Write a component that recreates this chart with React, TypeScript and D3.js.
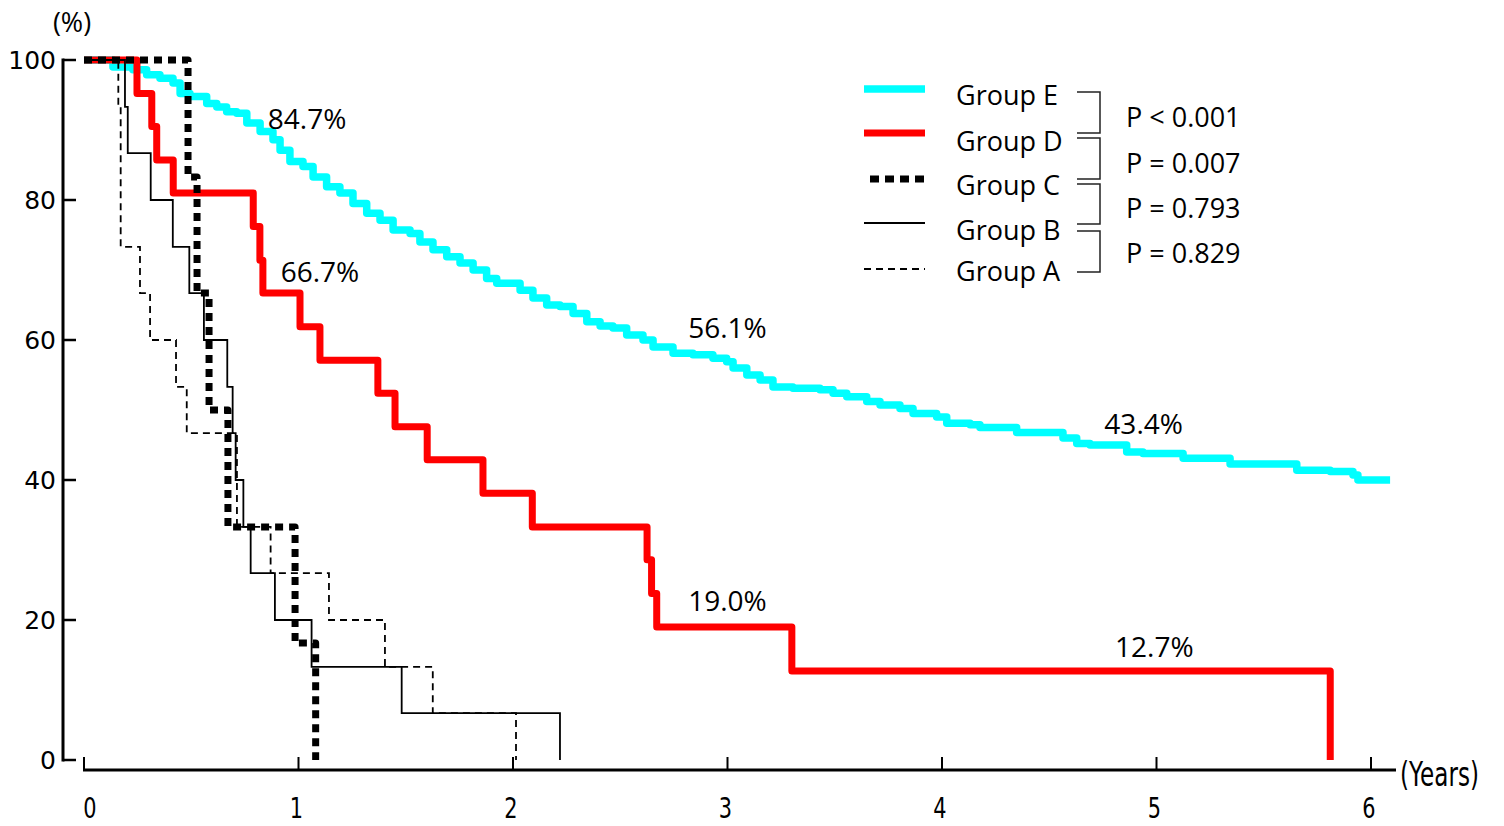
import React from 'react';
import * as d3 from 'd3';

const W = 1504;
const H = 826;

// Kaplan-Meier step points: [years, survival %]
const groupE: [number, number][] = [
  [0, 100], [0.135, 99.0], [0.228, 98.6], [0.292, 97.9], [0.354, 97.4], [0.415, 96.7],
  [0.448, 95.2], [0.494, 94.8], [0.572, 93.8], [0.619, 93.3], [0.665, 92.6], [0.712, 92.4],
  [0.759, 91.0], [0.821, 89.8], [0.881, 88.6], [0.914, 87.1], [0.96, 85.5], [1.021, 84.8],
  [1.068, 83.3], [1.131, 81.9], [1.193, 81.0], [1.254, 79.5], [1.318, 78.1], [1.38, 77.1],
  [1.441, 75.7], [1.52, 75.2], [1.566, 74.0], [1.627, 72.9], [1.691, 71.9], [1.753, 71.0],
  [1.814, 70.0], [1.877, 68.8], [1.924, 68.1], [2.033, 67.1], [2.093, 66.0], [2.157, 65.0],
  [2.219, 64.8], [2.28, 63.8], [2.344, 62.6], [2.406, 62.0], [2.466, 61.7], [2.53, 60.7],
  [2.606, 60.0], [2.653, 59.0], [2.746, 58.1], [2.839, 57.9], [2.932, 57.4], [2.996, 56.9],
  [3.026, 56.0], [3.09, 55.0], [3.152, 54.3], [3.212, 53.3], [3.305, 53.1], [3.431, 52.9],
  [3.492, 52.4], [3.556, 51.9], [3.649, 51.2], [3.711, 50.7], [3.804, 50.2], [3.865, 49.5],
  [3.975, 49.0], [4.022, 48.1], [4.131, 47.9], [4.177, 47.5], [4.348, 46.8], [4.564, 46.0],
  [4.628, 45.2], [4.69, 45.0], [4.861, 44.0], [4.937, 43.8], [5.124, 43.1], [5.343, 42.3],
  [5.654, 41.4], [5.81, 41.2], [5.916, 40.7], [5.939, 40.0], [6.089, 40.0],
];

const groupD: [number, number][] = [
  [0, 100], [0.247, 95.2], [0.316, 90.5], [0.339, 85.7], [0.416, 81.0], [0.789, 76.2],
  [0.82, 71.4], [0.834, 66.7], [1.007, 61.9], [1.1, 57.1], [1.37, 52.4], [1.45, 47.6],
  [1.6, 42.9], [1.86, 38.1], [2.09, 33.3], [2.625, 28.6], [2.646, 23.8], [2.67, 19.0],
  [3.3, 12.7], [5.81, 0],
];

const groupC: [number, number][] = [
  [0, 100], [0.485, 83.3], [0.527, 66.7], [0.583, 50.0], [0.671, 33.3], [0.984, 16.7], [1.08, 0],
];

const groupB: [number, number][] = [
  [0, 100], [0.191, 93.3], [0.204, 86.7], [0.311, 80.0], [0.414, 73.3], [0.491, 66.7],
  [0.559, 60.0], [0.668, 53.3], [0.693, 46.7], [0.707, 40.0], [0.743, 33.3], [0.777, 26.7],
  [0.89, 20.0], [1.061, 13.3], [1.481, 6.7], [2.219, 0],
];

const groupA: [number, number][] = [
  [0, 100], [0.16, 93.3], [0.171, 73.3], [0.261, 66.7], [0.308, 60.0], [0.429, 53.3],
  [0.479, 46.7], [0.713, 33.3], [0.87, 26.7], [1.142, 20.0], [1.403, 13.3], [1.626, 6.7],
  [2.014, 0],
];

const xTicks = [0, 1, 2, 3, 4, 5, 6];
const yTicks = [0, 20, 40, 60, 80, 100];

const legendLabels = ['Group E', 'Group D', 'Group C', 'Group B', 'Group A'];
const pValues = ['P < 0.001', 'P = 0.007', 'P = 0.793', 'P = 0.829'];

// curve annotations in data units: [years, %, text]
const annotations: [number, number, string][] = [
  [1.04, 91.6, '84.7%'],
  [1.10, 69.7, '66.7%'],
  [3.0, 61.7, '56.1%'],
  [3.0, 22.7, '19.0%'],
  [4.94, 48.0, '43.4%'],
  [4.99, 16.1, '12.7%'],
];

const styles = [
  { data: groupE, color: '#00ffff', width: 7.5, dash: null, legendDash: null },
  { data: groupD, color: '#ff0000', width: 7, dash: null, legendDash: null },
  { data: groupC, color: '#000', width: 7, dash: '8 6', legendDash: '9 6' },
  { data: groupB, color: '#000', width: 1.8, dash: null, legendDash: null },
  { data: groupA, color: '#000', width: 1.8, dash: '7 5', legendDash: '7 5' },
];

const textFont = '"Open Sans", sans-serif';
const axisFont = '"DejaVu Sans", sans-serif';

export default function App() {
  const x = d3.scaleLinear().domain([0, 6]).range([84, 1371]);
  const y = d3.scaleLinear().domain([0, 100]).range([760, 60]);
  const line = d3.line<[number, number]>()
    .x(d => x(d[0]))
    .y(d => y(d[1]))
    .curve(d3.curveStepAfter);

  const legendY = [89, 133, 179, 223, 269];
  const labelY = [95, 141, 185, 230, 271];
  const pY = [117, 163, 208, 253];
  const brackets = [[92, 133], [138, 179], [184, 224], [231, 272]];

  return (
    <svg width={W} height={H} style={{ position: 'absolute', left: 0, top: 0, background: '#fff' }}>
      {/* y axis */}
      <line x1={63} x2={63} y1={y(100) - 1.5} y2={y(0) + 1.5} stroke="#000" strokeWidth={3} />
      {yTicks.map(v => (
        <g key={v}>
          <line x1={63} x2={76} y1={y(v)} y2={y(v)} stroke="#000" strokeWidth={2.5} />
          <text x={56} y={y(v)} dy="0.36em" textAnchor="end" fontFamily={axisFont} fontSize={25}>{v}</text>
        </g>
      ))}
      <text x={72} y={22} dy="0.36em" textAnchor="middle" fontFamily={textFont} fontSize={27}>(%)</text>

      {/* x axis */}
      <line x1={x(0) - 1} x2={1396} y1={770} y2={770} stroke="#000" strokeWidth={3} />
      {xTicks.map(v => (
        <g key={v}>
          <line x1={x(v)} x2={x(v)} y1={770} y2={757} stroke="#000" strokeWidth={2} />
          <text transform={`translate(${x(v) + (v === 0 ? 6 : -2)},818) scale(0.72,1)`} textAnchor="middle"
            fontFamily={axisFont} fontSize={29}>{v}</text>
        </g>
      ))}
      <text transform="translate(1400,786) scale(0.7,1)" fontFamily={axisFont} fontSize={33}>(Years)</text>

      {/* survival curves */}
      {styles.map((s, i) => (
        <path key={i} d={line(s.data) || ''} fill="none" stroke={s.color} strokeWidth={s.width}
          strokeDasharray={s.dash || undefined} strokeLinejoin={s.width > 3 ? 'round' : 'miter'} />
      ))}

      {/* annotations */}
      {annotations.map(([t, p, label]) => (
        <text key={label} x={x(t)} y={y(p)} dy="0.36em" textAnchor="middle" fontFamily={textFont} fontSize={28}>{label}</text>
      ))}

      {/* legend */}
      {styles.map((s, i) => (
        <g key={i}>
          <line x1={s.legendDash && s.width > 3 ? 870 : 864} x2={925} y1={legendY[i]} y2={legendY[i]}
            stroke={s.color} strokeWidth={s.width} strokeDasharray={s.legendDash || undefined} />
          <text x={956} y={labelY[i]} dy="0.36em" fontFamily={textFont} fontSize={27}>{legendLabels[i]}</text>
        </g>
      ))}
      {brackets.map(([a, b], i) => (
        <path key={i} d={`M1077,${a}H1100V${b}H1077`} fill="none" stroke="#222" strokeWidth={1.5} />
      ))}
      {pValues.map((p, i) => (
        <text key={p} x={1126} y={pY[i]} dy="0.36em" fontFamily={textFont} fontSize={27}>{p}</text>
      ))}
    </svg>
  );
}
